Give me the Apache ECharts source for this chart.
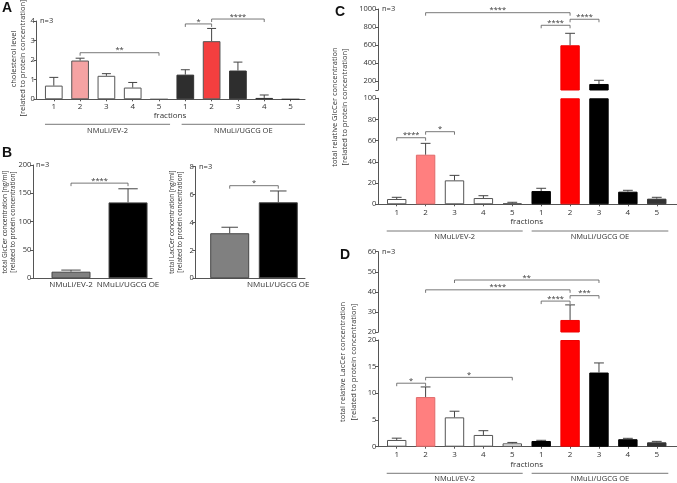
<!DOCTYPE html>
<html><head><meta charset="utf-8">
<script src="https://cdn.jsdelivr.net/npm/echarts@6/dist/echarts.min.js"></script>
<style>html,body{margin:0;padding:0;background:#fff}#c{width:677px;height:483px}</style>
</head><body><div id="c"></div>
<script>
// ===== DATA =====
const fractions = ['1', '2', '3', '4', '5'];
const groupNames = ['NMuLi/EV-2', 'NMuLi/UGCG OE'];
const bCategories = ['NMuLi/EV-2', 'NMuLi/UGCG OE'];

// Panel A: cholesterol level
const cholEV = [0.70, 1.98, 1.20, 0.60, 0];
const cholEVErr = [1.12, 2.10, 1.31, 0.86, 0];
const cholOE = [1.26, 2.97, 1.47, 0.07, 0];
const cholOEErr = [1.51, 3.62, 1.90, 0.22, 0];

// Panel B: totals
const glcTotal = [11.7, 134];
const glcTotalErr = [14.5, 158];
const lacTotal = [3.23, 5.45];
const lacTotalErr = [3.66, 6.26];

// Panel C: relative GlcCer per fraction
const glcEV = [5.0, 46.8, 22.6, 5.9, 0.9];
const glcEVErr = [6.6, 57.5, 27.3, 8.1, 1.9];
const glcOE = [12.5, 597, 167, 11.9, 5.3];
const glcOEErr = [15.1, 730, 208, 13.2, 6.6];

// Panel D: relative LacCer per fraction
const lacEV = [1.26, 9.3, 5.5, 2.2, 0.63];
const lacEVErr = [1.6, 11.2, 6.65, 3.0, 0.8];
const lacOE = [1.07, 26.0, 13.9, 1.4, 0.82];
const lacOEErr = [1.2, 33.5, 15.7, 1.57, 1.0];

// significance brackets: [from bar, to bar, height (data units), stars]
const sigA = [[2, 5, 2.38, '**'], [6, 7, 3.85, '*'], [7, 9, 4.1, '****']];
const sigB1 = [[1, 2, 168, '****']];
const sigB2 = [[1, 2, 6.64, '*']];
const sigC = [[1, 2, 62.8, '****'], [2, 3, 68.5, '*'], [2, 7, 959, '****'], [6, 7, 819, '****'], [7, 8, 886, '****']];
const sigD = [[1, 2, 11.9, '*'], [2, 5, 13.0, '*'], [3, 8, 45.9, '**'], [2, 7, 41, '****'], [6, 7, 35.4, '****'], [7, 8, 38.1, '***']];

// tick values
const ticksA = [0, 1, 2, 3, 4];
const ticksB1 = [0, 50, 100, 150, 200];
const ticksB2 = [0, 2, 4, 6, 8];
const ticksCUpper = [200, 400, 600, 800, 1000];
const ticksCLower = [0, 20, 40, 60, 80, 100];
const ticksDUpper = [20, 30, 40, 50, 60];
const ticksDLower = [0, 5, 10, 15, 20];
const breakC = 100;   // axis break value for C
const breakD = 20;    // axis break value for D

// ===== STYLE / LAYOUT =====
const FONT = 'Open Sans';
const AX = '#555';
const TXT = '#333';
const xLabels = fractions.concat(fractions);

const colA = {ev: ['#ffffff', '#f5a3a3', '#ffffff', '#ffffff', '#ffffff'], evB: ['#555', '#555', '#555', '#555', '#555'],
              oe: ['#2e2e2e', '#f43f3f', '#2e2e2e', '#2e2e2e', '#2e2e2e'], oeB: ['#333', '#555', '#333', '#333', '#333']};
const colCD = {ev: ['#ffffff', '#ff7f7f', '#ffffff', '#ffffff', '#ffffff'], evB: ['#555', '#e06a6a', '#555', '#555', '#555'],
               oe: ['#000000', '#ff0000', '#000000', '#000000', '#333333'], oeB: ['#000', '#f00000', '#000', '#000', '#333']};
const colB = ['#808080', '#000000'];

const grids = [
  {left: 36.7, top: 21, width: 268.3, height: 78.3},     // 0 A
  {left: 33.3, top: 165, width: 118.7, height: 113.3},   // 1 B left
  {left: 195.7, top: 166.7, width: 109.3, height: 111.6},// 2 B right
  {left: 378.3, top: 9, width: 298.4, height: 81},       // 3 C upper
  {left: 378.3, top: 98.3, width: 298.4, height: 106},   // 4 C lower
  {left: 378.3, top: 251.7, width: 298.4, height: 80.3}, // 5 D upper
  {left: 378.3, top: 340, width: 298.4, height: 106.7}   // 6 D lower
].map(g => Object.assign({containLabel: false, outerBoundsMode: 'none'}, g));

function xAxisOpt(g, min, max, show, labels, margin, size) {
  const vals = labels.map((_, i) => i + 1);
  return {
    type: 'value', gridIndex: g, min, max, show,
    axisLine: {show: true, onZero: false, lineStyle: {color: AX, width: 1}},
    axisTick: {show: labels.length > 2, length: 2, customValues: vals, lineStyle: {color: AX}},
    axisLabel: {customValues: vals, formatter: v => labels[Math.round(v) - 1] || '',
                fontSize: size || 8, margin, color: TXT, fontFamily: FONT},
    splitLine: {show: false}
  };
}
function yAxisOpt(g, min, max, labelVals, tickVals) {
  return {
    type: 'value', gridIndex: g, min, max,
    axisLine: {show: true, onZero: false, lineStyle: {color: AX, width: 1}},
    axisTick: {show: true, length: 3, customValues: tickVals || labelVals, lineStyle: {color: AX}},
    axisLabel: {customValues: labelVals, formatter: v => String(v), fontSize: 7.5, color: TXT, margin: 2, fontFamily: FONT},
    splitLine: {show: false}
  };
}

// bars
function barSeries(g, items, width) {
  return {type: 'bar', xAxisIndex: g, yAxisIndex: g, barWidth: width, clip: true,
          itemStyle: {borderRadius: 0}, data: items, animation: false, z: 2};
}
function st(fill, border) { return {color: fill, borderColor: border, borderWidth: 1, borderRadius: 0}; }
function fracItems(ev, oe, col, keep) {
  const out = [];
  ev.forEach((v, i) => { if (keep(v)) out.push({value: [i + 1, v], itemStyle: st(col.ev[i], col.evB[i])}); });
  oe.forEach((v, i) => { if (keep(v)) out.push({value: [i + 6, v], itemStyle: st(col.oe[i], col.oeB[i])}); });
  return out;
}
function errSeries(g, rows) {
  return {
    type: 'custom', xAxisIndex: g, yAxisIndex: g, data: rows, animation: false, z: 3,
    renderItem: (params, api) => {
      const x = api.value(0), v = api.value(1), e = api.value(2);
      if (!(e > v)) return null;
      const p0 = api.coord([x, v]), p1 = api.coord([x, e]);
      const hw = api.size([1, 0])[0] * 0.17;
      const s = {stroke: '#444', lineWidth: 1};
      return {type: 'group', children: [
        {type: 'line', shape: {x1: p0[0], y1: p0[1], x2: p1[0], y2: p1[1]}, style: s},
        {type: 'line', shape: {x1: p1[0] - hw, y1: p1[1], x2: p1[0] + hw, y2: p1[1]}, style: s}
      ]};
    }
  };
}
function fracErrRows(ev, evE, oe, oeE, keep) {
  const rows = [];
  ev.forEach((v, i) => { if (keep(v)) rows.push([i + 1, v, evE[i]]); });
  oe.forEach((v, i) => { if (keep(v)) rows.push([i + 6, v, oeE[i]]); });
  return rows;
}
function sigSeries(g, list) {
  return {
    type: 'custom', xAxisIndex: g, yAxisIndex: g, animation: false, z: 4,
    data: list.map(s => [s[0], s[1], s[2]]),
    renderItem: (params, api) => {
      const y = api.value(2);
      const p1 = api.coord([api.value(0), y]), p2 = api.coord([api.value(1), y]);
      const s = {stroke: '#555', lineWidth: 0.8};
      const tk = 3;
      return {type: 'group', children: [
        {type: 'line', shape: {x1: p1[0], y1: p1[1], x2: p2[0], y2: p2[1]}, style: s},
        {type: 'line', shape: {x1: p1[0], y1: p1[1], x2: p1[0], y2: p1[1] + tk}, style: s},
        {type: 'line', shape: {x1: p2[0], y1: p2[1], x2: p2[0], y2: p2[1] + tk}, style: s},
        {type: 'text', x: (p1[0] + p2[0]) / 2, y: p1[1] + 1.5,
         style: {text: list[params.dataIndex][3], align: 'center', verticalAlign: 'bottom',
                 fontSize: 7.5, fill: '#333', fontFamily: FONT}}
      ]};
    }
  };
}

const all = () => true;
const series = [];
// A
series.push(barSeries(0, fracItems(cholEV, cholOE, colA, all), 17.7));
series.push(errSeries(0, fracErrRows(cholEV, cholEVErr, cholOE, cholOEErr, all)));
series.push(sigSeries(0, sigA));
// B
series.push(barSeries(1, glcTotal.map((v, i) => ({value: [i + 1, v], itemStyle: st(colB[i], '#444')})), 39));
series.push(errSeries(1, glcTotal.map((v, i) => [i + 1, v, glcTotalErr[i]])));
series.push(sigSeries(1, sigB1));
series.push(barSeries(2, lacTotal.map((v, i) => ({value: [i + 1, v], itemStyle: st(colB[i], '#444')})), 39));
series.push(errSeries(2, lacTotal.map((v, i) => [i + 1, v, lacTotalErr[i]])));
series.push(sigSeries(2, sigB2));
// C (broken axis)
const aboveC = v => v > breakC, belowC = v => v <= breakC;
series.push(barSeries(3, fracItems(glcEV, glcOE, colCD, aboveC), 19.4));
series.push(barSeries(4, fracItems(glcEV.map(v => Math.min(v, breakC)), glcOE.map(v => Math.min(v, breakC)), colCD, all), 19.4));
series.push(errSeries(3, fracErrRows(glcEV, glcEVErr, glcOE, glcOEErr, aboveC)));
series.push(errSeries(4, fracErrRows(glcEV, glcEVErr, glcOE, glcOEErr, belowC)));
series.push(sigSeries(3, sigC.filter(s => s[2] > breakC)));
series.push(sigSeries(4, sigC.filter(s => s[2] <= breakC)));
// D (broken axis)
const aboveD = v => v > breakD, belowD = v => v <= breakD;
series.push(barSeries(5, fracItems(lacEV, lacOE, colCD, aboveD), 19.4));
series.push(barSeries(6, fracItems(lacEV.map(v => Math.min(v, breakD)), lacOE.map(v => Math.min(v, breakD)), colCD, all), 19.4));
series.push(errSeries(5, fracErrRows(lacEV, lacEVErr, lacOE, lacOEErr, aboveD)));
series.push(errSeries(6, fracErrRows(lacEV, lacEVErr, lacOE, lacOEErr, belowD)));
series.push(sigSeries(5, sigD.filter(s => s[2] > breakD)));
series.push(sigSeries(6, sigD.filter(s => s[2] <= breakD)));

const xAxes = [
  xAxisOpt(0, 0.35, 10.55, true, xLabels, 3),
  xAxisOpt(1, 0.339, 2.42, true, bCategories, 2),
  xAxisOpt(2, 0.30, 2.55, true, bCategories, 2),
  xAxisOpt(3, 0.363, 10.69, false, xLabels, 4),
  xAxisOpt(4, 0.363, 10.69, true, xLabels, 4.5),
  xAxisOpt(5, 0.363, 10.69, false, xLabels, 4),
  xAxisOpt(6, 0.363, 10.69, true, xLabels, 4)
];
const yAxes = [
  yAxisOpt(0, ticksA[0], ticksA[ticksA.length - 1], ticksA),
  yAxisOpt(1, ticksB1[0], ticksB1[ticksB1.length - 1], ticksB1),
  yAxisOpt(2, ticksB2[0], ticksB2[ticksB2.length - 1], ticksB2),
  yAxisOpt(3, breakC, ticksCUpper[ticksCUpper.length - 1], ticksCUpper, [breakC].concat(ticksCUpper)),
  yAxisOpt(4, ticksCLower[0], ticksCLower[ticksCLower.length - 1], ticksCLower),
  yAxisOpt(5, ticksDUpper[0], ticksDUpper[ticksDUpper.length - 1], ticksDUpper),
  yAxisOpt(6, ticksDLower[0], ticksDLower[ticksDLower.length - 1], ticksDLower)
];

// text annotations
function txt(x, y, text, opt) {
  return {type: 'text', x, y, silent: true,
    style: Object.assign({text, fontSize: 7.5, fill: TXT, fontFamily: FONT, align: 'left', verticalAlign: 'middle'}, (opt && opt.style) || {})};
}
function vtxt(x, y, text, size) {
  return {type: 'text', x, y, rotation: Math.PI / 2, silent: true,
    style: {text, fontSize: size || 7, fill: TXT, fontFamily: FONT, align: 'center', verticalAlign: 'middle'}};
}
function letter(x, y, t) {
  return {type: 'text', x, y, silent: true,
    style: {text: t, fontSize: 14, fontWeight: 'bold', fill: '#111', fontFamily: 'Liberation Sans', align: 'left', verticalAlign: 'top'}};
}

const graphics = [
  letter(2, 1, 'A'), letter(2, 146, 'B'), letter(335, 5, 'C'), letter(340, 248, 'D'),
  vtxt(14, 59, 'cholesterol level', 7.5), vtxt(22.5, 58, '[related to protein concentration]', 7.5),
  vtxt(5.5, 222, 'total GlcCer concentration [ng/ml]', 6.5), vtxt(13.5, 222, '[related to protein concentration]', 6.5),
  vtxt(172, 222, 'total LacCer concentration [ng/ml]', 6.5), vtxt(180, 222, '[related to protein concentration]', 6.5),
  vtxt(335, 107, 'total relative GlcCer concentration', 7.5), vtxt(345, 107, '[related to protein concentration]', 7.5),
  vtxt(343, 362, 'total relative LacCer concentration', 7.5), vtxt(353.5, 362, '[related to protein concentration]', 7.5),
  txt(40, 21, 'n=3'), txt(36, 165, 'n=3'), txt(199, 166.7, 'n=3'), txt(382, 9, 'n=3'), txt(382, 251.7, 'n=3'),
  txt(170, 115.5, 'fractions', {style: {align: 'center', fontSize: 8}}),
  txt(526.7, 222, 'fractions', {style: {align: 'center', fontSize: 8}}),
  txt(526.7, 464.5, 'fractions', {style: {align: 'center', fontSize: 8}})
];

const chart = echarts.init(document.getElementById('c'), null, {renderer: 'canvas'});
chart.setOption({
  animation: false,
  backgroundColor: '#fff',
  grid: grids, xAxis: xAxes, yAxis: yAxes, series, graphic: graphics
});

// group lines & labels placed along the fraction axis (data units of bar positions)
const groupSpans = [
  {grid: 0, y: 124.3, ly: 131, spans: [[0.665, 5.42], [5.86, 10.55]]},
  {grid: 4, y: 231, ly: 237, spans: [[0.654, 5.36], [5.67, 10.4]]},
  {grid: 6, y: 473.3, ly: 479.3, spans: [[0.654, 5.36], [5.67, 10.4]]}
];
const extra = [];
groupSpans.forEach(gs => {
  gs.spans.forEach((sp, k) => {
    const a = chart.convertToPixel({gridIndex: gs.grid}, [sp[0], 1])[0];
    const b = chart.convertToPixel({gridIndex: gs.grid}, [sp[1], 1])[0];
    extra.push({type: 'line', silent: true, shape: {x1: a, y1: gs.y, x2: b, y2: gs.y}, style: {stroke: '#555', lineWidth: 0.8}});
    extra.push(txt((a + b) / 2, gs.ly, groupNames[k], {style: {align: 'center', fontSize: 7.5}}));
  });
});
chart.setOption({graphic: graphics.concat(extra)}, {replaceMerge: ['graphic']});
</script>
</body></html>
